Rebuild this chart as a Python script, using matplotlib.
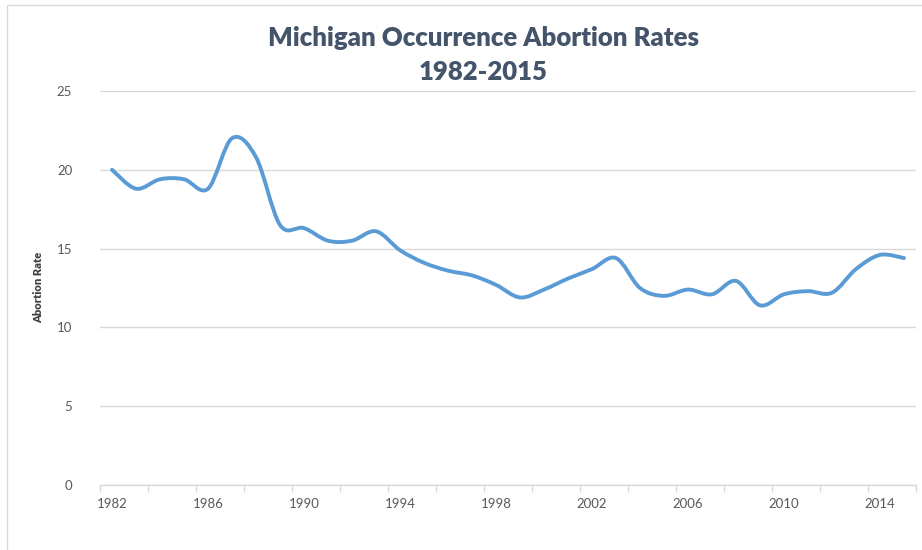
import numpy as np
import matplotlib
matplotlib.use("Agg")
import matplotlib.pyplot as plt
from matplotlib.path import Path
from matplotlib.patches import PathPatch, Rectangle

years = list(range(1982, 2016))
rates = [20.0, 18.8, 19.4, 19.4, 18.8, 22.0, 20.8, 16.5, 16.3, 15.5,
         15.5, 16.1, 14.9, 14.1, 13.6, 13.3, 12.7, 11.9, 12.4, 13.1,
         13.7, 14.4, 12.5, 12.0, 12.4, 12.1, 12.95, 11.4, 12.1, 12.3,
         12.2, 13.7, 14.6, 14.4]
title = "Michigan Occurrence Abortion Rates\n1982-2015"
ylabel = "Abortion Rate"
xtick_years = list(range(1982, 2015, 4))
yticks = [0, 5, 10, 15, 20, 25]

FONT = "Lato"
TXT = "#595959"
GRID = "#D9D9D9"
LINE = "#5B9BD5"

fig = plt.figure(figsize=(9.22, 5.5), dpi=100)
fig.patch.set_facecolor("white")
# outer chart border
fig.patches.append(Rectangle((7/922, -0.1), 1.2, 1 - 5/550 + 0.1, transform=fig.transFigure,
                             fill=False, edgecolor="#D9D9D9", linewidth=1.0))

ax = fig.add_axes([100/922, 1 - 485/550, 816/922, (485 - 91)/550])
ax.set_xlim(1981.5, 2015.5)
ax.set_ylim(0, 25)

# Smoothed line (Catmull-Rom style Bezier, like Excel smoothing)
x = np.array(years, dtype=float)
y = np.array(rates, dtype=float)
verts = [(x[0], y[0])]
codes = [Path.MOVETO]
n = len(x)
for i in range(n - 1):
    p0 = (x[i - 1], y[i - 1]) if i > 0 else (x[i], y[i])
    p1 = (x[i], y[i])
    p2 = (x[i + 1], y[i + 1])
    p3 = (x[i + 2], y[i + 2]) if i + 2 < n else (x[i + 1], y[i + 1])
    c1 = (p1[0] + (p2[0] - p0[0]) / 6, p1[1] + (p2[1] - p0[1]) / 6)
    c2 = (p2[0] - (p3[0] - p1[0]) / 6, p2[1] - (p3[1] - p1[1]) / 6)
    verts += [c1, c2, p2]
    codes += [Path.CURVE4] * 3
ax.add_patch(PathPatch(Path(verts, codes), facecolor="none", edgecolor=LINE,
                       linewidth=2.8, capstyle="round", joinstyle="round", zorder=3))

for s in ["top", "right", "left"]:
    ax.spines[s].set_visible(False)
ax.spines["bottom"].set_color(GRID)
ax.spines["bottom"].set_linewidth(1.0)

ax.set_yticks(yticks)
ax.set_yticklabels([str(v) for v in yticks], fontfamily=FONT, fontsize=9.5, color=TXT)
ax.yaxis.grid(True, color=GRID, linewidth=1.0)
ax.set_axisbelow(True)
ax.tick_params(axis="y", length=0, pad=20)

ax.set_xticks(xtick_years)
ax.set_xticklabels([str(v) for v in xtick_years], fontfamily=FONT, fontsize=9.5, color=TXT)
ax.tick_params(axis="x", which="major", length=0, pad=9)
ax.set_xticks(np.arange(1981.5, 2016, 2), minor=True)
ax.tick_params(axis="x", which="minor", length=5, color=GRID, width=1.0)

fig.text(39/922, 1 - 287/550, ylabel, rotation=90, ha="center", va="center",
         fontfamily=FONT, fontsize=8, fontweight="heavy", color="#404040")

fig.text(483/922, 1 - 55/550, title, ha="center", va="center", linespacing=1.5,
         fontfamily=FONT, fontsize=18.5, fontweight="heavy", color="#44546A")

fig.savefig("out.png", dpi=100)
